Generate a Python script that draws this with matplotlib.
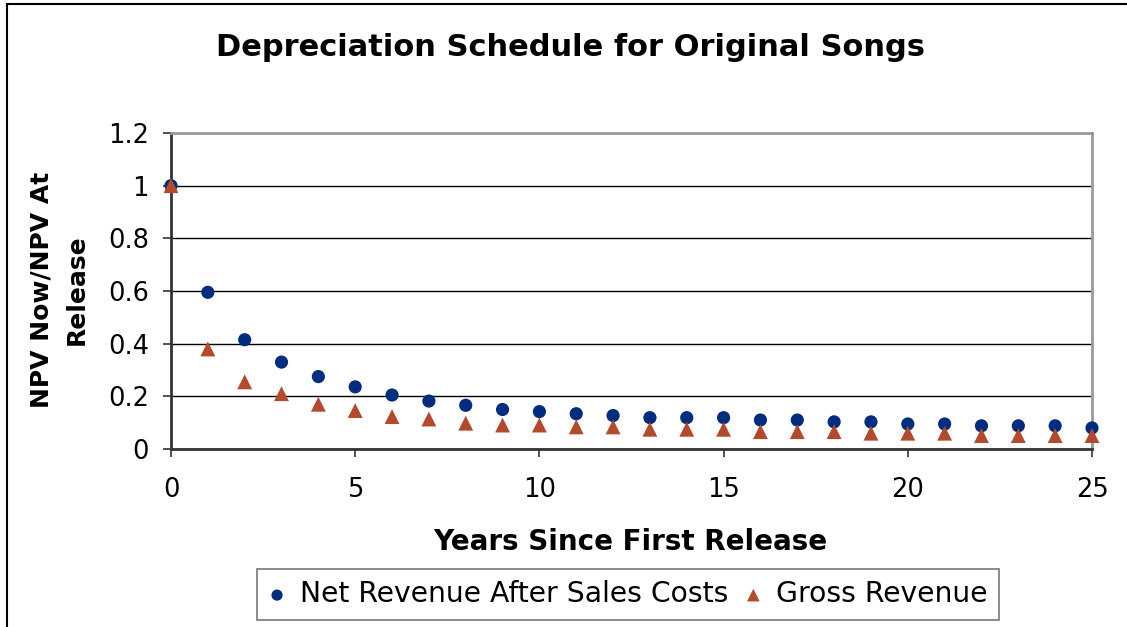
import matplotlib
matplotlib.use("Agg")
import matplotlib.pyplot as plt
from matplotlib.patches import Rectangle

years = list(range(26))
net_revenue = [1.0, 0.595, 0.415, 0.33, 0.275, 0.236, 0.205, 0.182, 0.166, 0.150,
               0.142, 0.134, 0.127, 0.119, 0.119, 0.119, 0.110, 0.110, 0.103, 0.103,
               0.095, 0.095, 0.088, 0.088, 0.088, 0.080]
gross_revenue = [1.0, 0.38, 0.255, 0.21, 0.17, 0.146, 0.123, 0.114, 0.098, 0.091,
                 0.091, 0.084, 0.084, 0.075, 0.075, 0.075, 0.066, 0.066, 0.066, 0.060,
                 0.060, 0.060, 0.051, 0.051, 0.051, 0.051]
y_ticks = [0, 0.2, 0.4, 0.6, 0.8, 1.0, 1.2]
y_tick_labels = ["0", "0.2", "0.4", "0.6", "0.8", "1", "1.2"]
x_ticks = [0, 5, 10, 15, 20, 25]

plt.rcParams['font.family'] = ['DejaVu Sans']

W, H = 1127, 627
fig = plt.figure(figsize=(W / 100, H / 100), dpi=100)
fig.patch.set_facecolor("white")

# outer chart frame (extends beyond the cropped image)
fig.patches.append(Rectangle((7 / W, -0.1), 1.2, 1 - 4 / H + 0.1, transform=fig.transFigure,
                             fill=False, edgecolor="black", linewidth=1.5))

ax = fig.add_axes([171 / W, 1 - 449 / H, (1092 - 171) / W, (449 - 133) / H])
ax.set_xlim(0, 25)
ax.set_ylim(0, 1.2)

ax.grid(axis="y", color="black", linewidth=1.0, zorder=0)
ax.set_axisbelow(True)

ax.scatter(years, net_revenue, marker="o", s=90, color="#002D80", edgecolors="none",
           zorder=3, label="Net Revenue After Sales Costs", clip_on=False)
ax.scatter(years, gross_revenue, marker="^", s=115, color="#B34A2D", edgecolors="none",
           zorder=4, label="Gross Revenue", clip_on=False)

ax.set_yticks(y_ticks)
ax.set_yticklabels(y_tick_labels)
ax.set_xticks(x_ticks)
ax.tick_params(axis="both", labelsize=18.5, direction="out", length=6, width=1.2, color="#333333")
ax.tick_params(axis="x", pad=14)
ax.tick_params(axis="y", pad=10)

for side in ["left", "bottom"]:
    ax.spines[side].set_color("#333333")
    ax.spines[side].set_linewidth(2)
for side in ["top", "right"]:
    ax.spines[side].set_color("#999999")
    ax.spines[side].set_linewidth(2)

fig.text(570 / W, 1 - 56 / H, "Depreciation Schedule for Original Songs",
         ha="center", va="baseline", fontsize=22, fontweight="bold")
fig.text(630 / W, 1 - 550 / H, "Years Since First Release",
         ha="center", va="baseline", fontsize=20, fontweight="bold")
fig.text(59 / W, 1 - 290 / H, "NPV Now/NPV At\nRelease", rotation=90,
         ha="center", va="center", fontsize=18, fontweight="bold", linespacing=1.6)

leg = fig.legend(loc="center", bbox_to_anchor=(628 / W, 1 - 594.5 / H), ncol=2,
                 fontsize=20.3, frameon=True, fancybox=False, borderpad=0.4,
                 handletextpad=0.5, columnspacing=0.6, handlelength=0.6,
                 markerscale=0.85, borderaxespad=0)
leg.get_frame().set_edgecolor("#555555")
leg.get_frame().set_linewidth(1.2)

fig.savefig("out.png", dpi=100)
